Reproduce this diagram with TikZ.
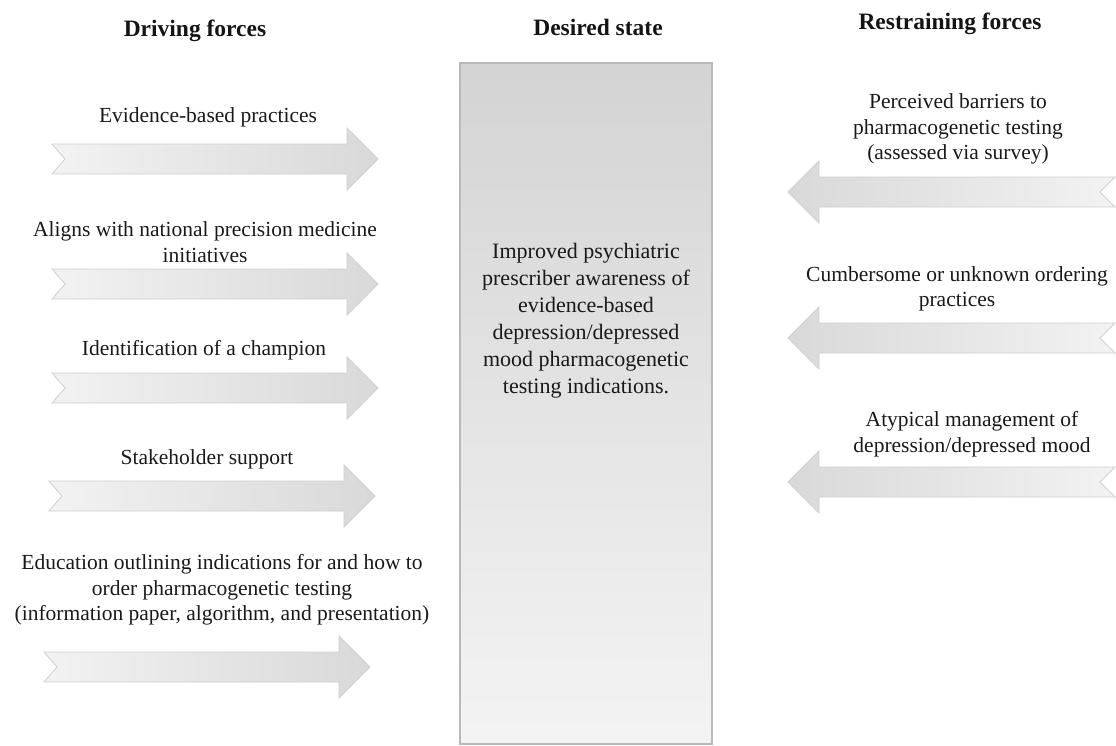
\documentclass[tikz,border=0pt]{standalone}
\usepackage{fontspec}
\setmainfont{Liberation Serif}
\tikzset{
  rarr/.pic={\path[draw=gray!38, line width=0.8pt, left color=gray!10, right color=gray!30]
    (0,-15) -- (295,-15) -- (295,-31) -- (326,0) -- (295,31) -- (295,15) -- (0,15) -- (13,0) -- cycle;},
  larr/.pic={\path[draw=gray!38, line width=0.8pt, left color=gray!30, right color=gray!10]
    (0,0) -- (31,-31) -- (31,-15) -- (327,-15) -- (312,0) -- (327,15) -- (31,15) -- (31,31) -- cycle;},
  lbl/.style={font=\fontsize{21.5}{25.5}\selectfont, align=center, text=black!90, inner sep=0pt},
  ctxt/.style={font=\fontsize{22}{27}\selectfont, align=center, text=black!90, inner sep=0pt},
  head/.style={font=\fontsize{23.5}{28}\selectfont\bfseries, text=black!92, inner sep=0pt},
  statebox/.style={draw=gray!55, line width=1.2pt, top color=gray!34, bottom color=gray!9}
}
\begin{document}
\begin{tikzpicture}[x=1pt,y=-1pt]
\useasboundingbox (0,0) rectangle (1116,745);
% headings
\node[head] (h1) at (195,31) {Driving forces};
\node[head] (h2) at (598,27) {Desired state};
\node[head] (h3) at (950,24) {Restraining forces};
% desired state box
\path[statebox] (460,63) rectangle (712,744);
\node[ctxt] (c) at (586,321) {Improved psychiatric\\prescriber awareness of\\evidence-based\\depression/depressed\\mood pharmacogenetic\\testing indications.};
% driving forces
\coordinate (la1) at (52,159);
\coordinate (la2) at (52,284);
\coordinate (la3) at (52,388);
\coordinate (la4) at (49,496);
\coordinate (la5) at (44,667);
\pic at (la1) {rarr};
\pic at (la2) {rarr};
\pic at (la3) {rarr};
\pic at (la4) {rarr};
\pic at (la5) {rarr};
\node[lbl] (t1) at (208,117) {Evidence-based practices};
\node[lbl] (t2) at (205,242) {Aligns with national precision medicine\\initiatives};
\node[lbl] (t3) at (204,350) {Identification of a champion};
\node[lbl] (t4) at (207,459) {Stakeholder support};
\node[lbl] (t5) at (222,590) {Education outlining indications for and how to\\order pharmacogenetic testing\\(information paper, algorithm, and presentation)};
% restraining forces
\coordinate (ra1) at (788,192);
\coordinate (ra2) at (788,338);
\coordinate (ra3) at (788,482);
\pic at (ra1) {larr};
\pic at (ra2) {larr};
\pic at (ra3) {larr};
\node[lbl] (r1) at (958,129) {Perceived barriers to\\pharmacogenetic testing\\(assessed via survey)};
\node[lbl] (r2) at (957,289) {Cumbersome or unknown ordering\\practices};
\node[lbl] (r3) at (972,434) {Atypical management of\\depression/depressed mood};
\end{tikzpicture}
\end{document}
